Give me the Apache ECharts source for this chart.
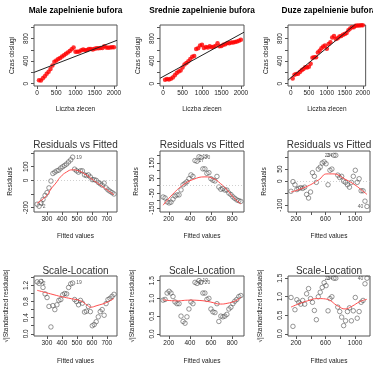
<!DOCTYPE html>
<html>
<head>
<meta charset="utf-8">
<script src="https://cdn.jsdelivr.net/npm/echarts@6/dist/echarts.min.js"></script>
<style>
html,body{margin:0;padding:0;background:#fff}
#chart{width:373px;height:366px}
</style>
</head>
<body>
<div id="chart"></div>
<script>
// liczba zlecen (os x gornego wiersza)
const orders = [50,100,150,200,250,300,350,400,450,500,550,600,650,700,750,800,850,900,950,1000,
  1050,1100,1150,1200,1250,1300,1350,1400,1450,1500,1550,1600,1650,1700,1750,1800,1850,1900,1950,2000];

// czas obslugi
const timeMale = [60,58,96,134,178,211,259,322,390,413,437,455,483,506,529,552,580,609,642,567,
  568,571,594,607,591,599,617,615,608,621,629,628,631,634,662,640,638,641,645,648];
const timeSrednie = [70,83,76,88,111,150,189,216,235,287,340,369,397,436,480,489,613,627,676,690,
  633,652,641,665,644,653,667,716,664,668,692,701,720,719,728,732,740,749,763,777];
const timeDuze = [91,157,171,177,208,238,261,293,289,300,352,458,469,471,552,586,630,661,679,619,
  705,736,820,846,791,807,838,845,866,882,899,945,980,1000,1000,1025,1030,1030,1035,1035];

// prosta regresji [wyraz wolny, nachylenie]
const coefMale = [222, 0.263];
const coefSrednie = [127, 0.3774];
const coefDuze = [106.6, 0.527];

// wartosci dopasowane
const fitMale = [235,248,261,274,288,301,314,327,340,353,367,380,393,406,419,432,445,459,472,485,
  498,511,524,537,551,564,577,590,603,616,629,643,656,669,682,695,708,721,735,748];
const fitSrednie = [146,165,184,203,221,240,259,278,297,316,335,354,372,391,410,429,448,467,486,505,
  523,542,561,580,599,618,637,656,674,693,712,731,750,769,788,807,825,844,863,882];
const fitDuze = [133,159,186,212,238,265,291,318,344,370,397,423,449,476,502,528,555,581,607,634,
  660,686,713,739,766,792,818,845,871,897,924,950,976,1003,1029,1055,1082,1108,1134,1161];

// reszty
const residMale = [-175,-190,-165,-140,-110,-90,-55,-5,50,60,70,75,90,100,110,120,135,150,170,82,
  70,60,70,70,40,35,40,25,5,5,0,-15,-25,-35,-20,-55,-70,-80,-90,-100];
const residSrednie = [-76,-82,-108,-115,-110,-90,-70,-62,-62,-29,5,15,25,45,70,60,165,160,190,185,
  110,110,80,85,45,35,30,60,-10,-25,-20,-30,-30,-50,-60,-75,-85,-95,-100,-105];
const residDuze = [-42,-2,-15,-35,-30,-27,-30,-25,-55,-70,-45,35,20,-5,50,58,75,80,72,-15,
  45,50,107,107,25,15,20,0,-5,-15,-25,-5,20,45,-5,10,-40,-40,-83,-105];

// sqrt(|standaryzowane reszty|)
const scaleMale = [1.29,1.25,1.3,1.15,0.99,0.9,0.68,0.17,0.7,0.6,0.72,0.83,0.85,0.97,1.0,0.99,1.15,1.24,1.26,0.85,
  0.8,0.72,0.83,0.76,0.54,0.56,0.68,0.55,0.2,0.23,0.3,0.42,0.55,0.6,0.46,0.75,0.85,0.88,0.93,0.98];
const scaleSrednie = [0.95,0.97,1.15,1.2,1.15,1.05,0.9,0.85,0.85,0.5,0.35,0.3,0.48,0.7,0.9,0.85,1.45,1.42,1.5,1.45,
  1.15,1.15,0.97,1.0,0.7,0.62,0.6,0.85,0.35,0.5,0.48,0.5,0.55,0.7,0.75,0.85,0.92,0.97,1.05,1.08];
const scaleDuze = [0.98,0.2,0.65,0.92,0.85,0.8,0.9,0.8,1.08,1.22,0.95,0.85,0.63,0.38,1.0,1.12,1.25,1.38,1.3,0.62,
  0.95,1.0,1.5,1.5,0.72,0.6,0.45,0.22,0.35,0.6,0.7,0.35,0.62,0.98,0.42,0.6,0.85,0.9,1.35,1.5];

// czerwone wygladzenie
const smoothResidMale = [[235,-168],[300,-110],[327,-64],[360,-20],[392,26],[430,60],[470,77],[510,70],[546,51],[612,0],[678,-51],[748,-106]];
const smoothResidSrednie = [[146,-130],[238,-57],[335,3],[431,40],[543,57],[623,46],[688,14],[752,-29],[832,-93],[882,-121]];
const smoothResidDuze = [[133,-45],[326,-25],[506,5],[618,30],[700,30],[865,8],[1000,-16],[1100,-40],[1161,-55]];
const smoothScaleMale = [[235,1.08],[326,0.99],[399,0.92],[465,0.87],[524,0.82],[573,0.7],[590,0.66],[634,0.7],[700,0.78],[748,0.88]];
const smoothScaleSrednie = [[146,0.96],[271,0.93],[399,0.95],[495,0.94],[591,0.9],[688,0.84],[752,0.86],[832,0.93],[882,1.03]];
const smoothScaleDuze = [[133,0.72],[326,0.87],[506,0.95],[600,0.94],[775,0.74],[865,0.67],[955,0.74],[1067,0.87],[1161,0.93]];

// oznaczone obserwacje (indeksy)
const labelMale = [0, 1, 18];
const labelSrednie = [16, 18, 19];
const labelDuze = [22, 23, 39];

// tytuly
const titlesTop = ['Male zapelnienie bufora', 'Srednie zapelnienie bufora', 'Duze zapelnienie bufora'];

// zakresy osi i podzialki
const topX = [-80, 2080], topY = [-40, 1040];
const topXTicks = [0, 500, 1000, 1500, 2000];
const topYTicks = [0, 200, 400, 600, 800, 1000], topYLabels = [0, 400, 800];
const fitRange = [[214, 768], [117, 912], [92, 1202]];
const fitTicks = [[300, 400, 500, 600, 700], [200, 400, 600, 800], [200, 400, 600, 800, 1000]];
const fitLabels = [[300, 400, 500, 600, 700], [200, 400, 600, 800], [200, 600, 1000]];
const residRange = [[-232, 215], [-175, 228], [-128, 125]];
const residTicks = [[-200, -100, 0, 100, 200], [-150, -100, -50, 0, 50, 100, 150, 200], [-100, -50, 0, 50, 100]];
const residLabels = [[-200, 0, 100], [-150, -50, 50, 150], [-100, 0, 50]];
const scaleRange = [[-0.055, 1.435], [-0.06, 1.63], [-0.06, 1.56]];
const scaleTicks = [[0, 0.2, 0.4, 0.6, 0.8, 1.0, 1.2, 1.4], [0, 0.5, 1.0, 1.5], [0, 0.5, 1.0, 1.5]];
const scaleLabels = [[0, 0.4, 0.8, 1.2], [0, 0.5, 1.0, 1.5], [0, 0.5, 1.0, 1.5]];

const font = '"Liberation Sans", Arial, sans-serif';
const colLeft = [34, 160, 288];
const colWidth = [83, 84, 82];
const rowTop = [25, 151, 276];
const rowH = 61;

const times = [timeMale, timeSrednie, timeDuze];
const coefs = [coefMale, coefSrednie, coefDuze];
const fits = [fitMale, fitSrednie, fitDuze];
const resids = [residMale, residSrednie, residDuze];
const scales = [scaleMale, scaleSrednie, scaleDuze];
const smoothR = [smoothResidMale, smoothResidSrednie, smoothResidDuze];
const smoothS = [smoothScaleMale, smoothScaleSrednie, smoothScaleDuze];
const labelIdx = [labelMale, labelSrednie, labelDuze];

const grids = [], xAxes = [], yAxes = [], series = [], titles = [];

function axis(o) {
  const inRange = v => v >= o.min && v <= o.max;
  return {
    gridIndex: o.gi, type: 'value', min: o.min, max: o.max,
    name: o.name, nameLocation: 'middle', nameGap: o.gap, nameRotate: o.vertical ? 90 : 0,
    nameTextStyle: {fontFamily: font, fontSize: 6.5, color: '#222'},
    axisLine: {show: false, onZero: false},
    splitLine: {show: false},
    axisTick: {show: true, inside: false, length: 3, customValues: o.ticks.filter(inRange),
      lineStyle: {color: '#555', width: 1}},
    axisLabel: {show: true, customValues: o.labels.filter(inRange), rotate: o.vertical ? 90 : 0,
      margin: 4, fontFamily: font, fontSize: 6.5, color: '#222',
      formatter: o.fmt || (v => String(v))}
  };
}

function points(xs, ys, ids, mid) {
  return xs.map((x, i) => {
    const item = {value: [x, ys[i]]};
    if (ids && ids.indexOf(i) >= 0) {
      item.label = {show: true, formatter: String(i + 1), position: x > mid ? 'left' : 'right',
        distance: 1, fontSize: 5, fontFamily: font, color: '#333'};
    }
    return item;
  });
}

for (let r = 0; r < 3; r++) {
  for (let c = 0; c < 3; c++) {
    const gi = r * 3 + c;
    grids.push({left: colLeft[c], top: rowTop[r], width: colWidth[c], height: rowH,
      show: true, borderColor: '#555', borderWidth: 1, backgroundColor: 'transparent'});
    const cx = colLeft[c] + colWidth[c] / 2;

    if (r === 0) {
      titles.push({text: titlesTop[c], left: cx, top: 11, textAlign: 'center', textVerticalAlign: 'middle',
        padding: 0, textStyle: {fontFamily: font, fontSize: 8.3, fontWeight: 'bold', color: '#000'}});
      xAxes.push(axis({gi, min: topX[0], max: topX[1], ticks: topXTicks, labels: topXTicks,
        name: 'Liczba zlecen', gap: 20}));
      yAxes.push(axis({gi, min: topY[0], max: topY[1], ticks: topYTicks, labels: topYLabels,
        name: 'Czas obslugi', gap: 18, vertical: true}));
      series.push({type: 'scatter', xAxisIndex: gi, yAxisIndex: gi, symbol: 'circle', symbolSize: 4.5,
        itemStyle: {color: '#ff0000'}, data: orders.map((x, i) => [x, times[c][i]]), z: 2});
      const a = coefs[c][0], b = coefs[c][1];
      series.push({type: 'line', xAxisIndex: gi, yAxisIndex: gi, showSymbol: false, symbol: 'none',
        lineStyle: {color: '#222', width: 1}, data: [[topX[0], a + b * topX[0]], [topX[1], a + b * topX[1]]], z: 3});
    } else {
      const isResid = r === 1;
      const yr = isResid ? residRange[c] : scaleRange[c];
      const mid = (fitRange[c][0] + fitRange[c][1]) / 2;
      titles.push({text: isResid ? 'Residuals vs Fitted' : 'Scale-Location', left: cx,
        top: isResid ? 145 : 271, textAlign: 'center', textVerticalAlign: 'middle', padding: 0,
        textStyle: {fontFamily: font, fontSize: 10, fontWeight: 'normal', color: '#333'}});
      xAxes.push(axis({gi, min: fitRange[c][0], max: fitRange[c][1], ticks: fitTicks[c], labels: fitLabels[c],
        name: 'Fitted values', gap: isResid ? 21 : 22}));
      yAxes.push(axis({gi, min: yr[0], max: yr[1],
        ticks: isResid ? residTicks[c] : scaleTicks[c], labels: isResid ? residLabels[c] : scaleLabels[c],
        name: isResid ? 'Residuals' : '√|Standardized residuals|', gap: isResid ? 20 : 24, vertical: true,
        fmt: isResid ? null : (v => v.toFixed(1))}));
      const ys = isResid ? resids[c] : scales[c];
      // otwarte kolko jak pch=1 w R
      const s = {type: 'scatter', xAxisIndex: gi, yAxisIndex: gi, symbol: 'circle', symbolSize: 4.5,
        itemStyle: {color: 'rgba(0,0,0,0)', borderColor: '#444', borderWidth: 0.7},
        data: points(fits[c], ys, labelIdx[c], mid), z: 2};
      if (isResid) {
        s.markLine = {silent: true, symbol: ['none', 'none'], label: {show: false},
          lineStyle: {type: [1, 2], color: '#c4c4c4', width: 0.8}, data: [{yAxis: 0}]};
      }
      series.push(s);
      series.push({type: 'line', xAxisIndex: gi, yAxisIndex: gi, showSymbol: false, symbol: 'none', smooth: true,
        lineStyle: {color: '#ff4d4d', width: 1}, data: isResid ? smoothR[c] : smoothS[c], z: 3});
    }
  }
}

const chart = echarts.init(document.getElementById('chart'), null, {renderer: 'canvas'});
chart.setOption({
  backgroundColor: '#fff',
  animation: false,
  title: titles,
  grid: grids,
  xAxis: xAxes,
  yAxis: yAxes,
  series: series
});
</script>
</body>
</html>
